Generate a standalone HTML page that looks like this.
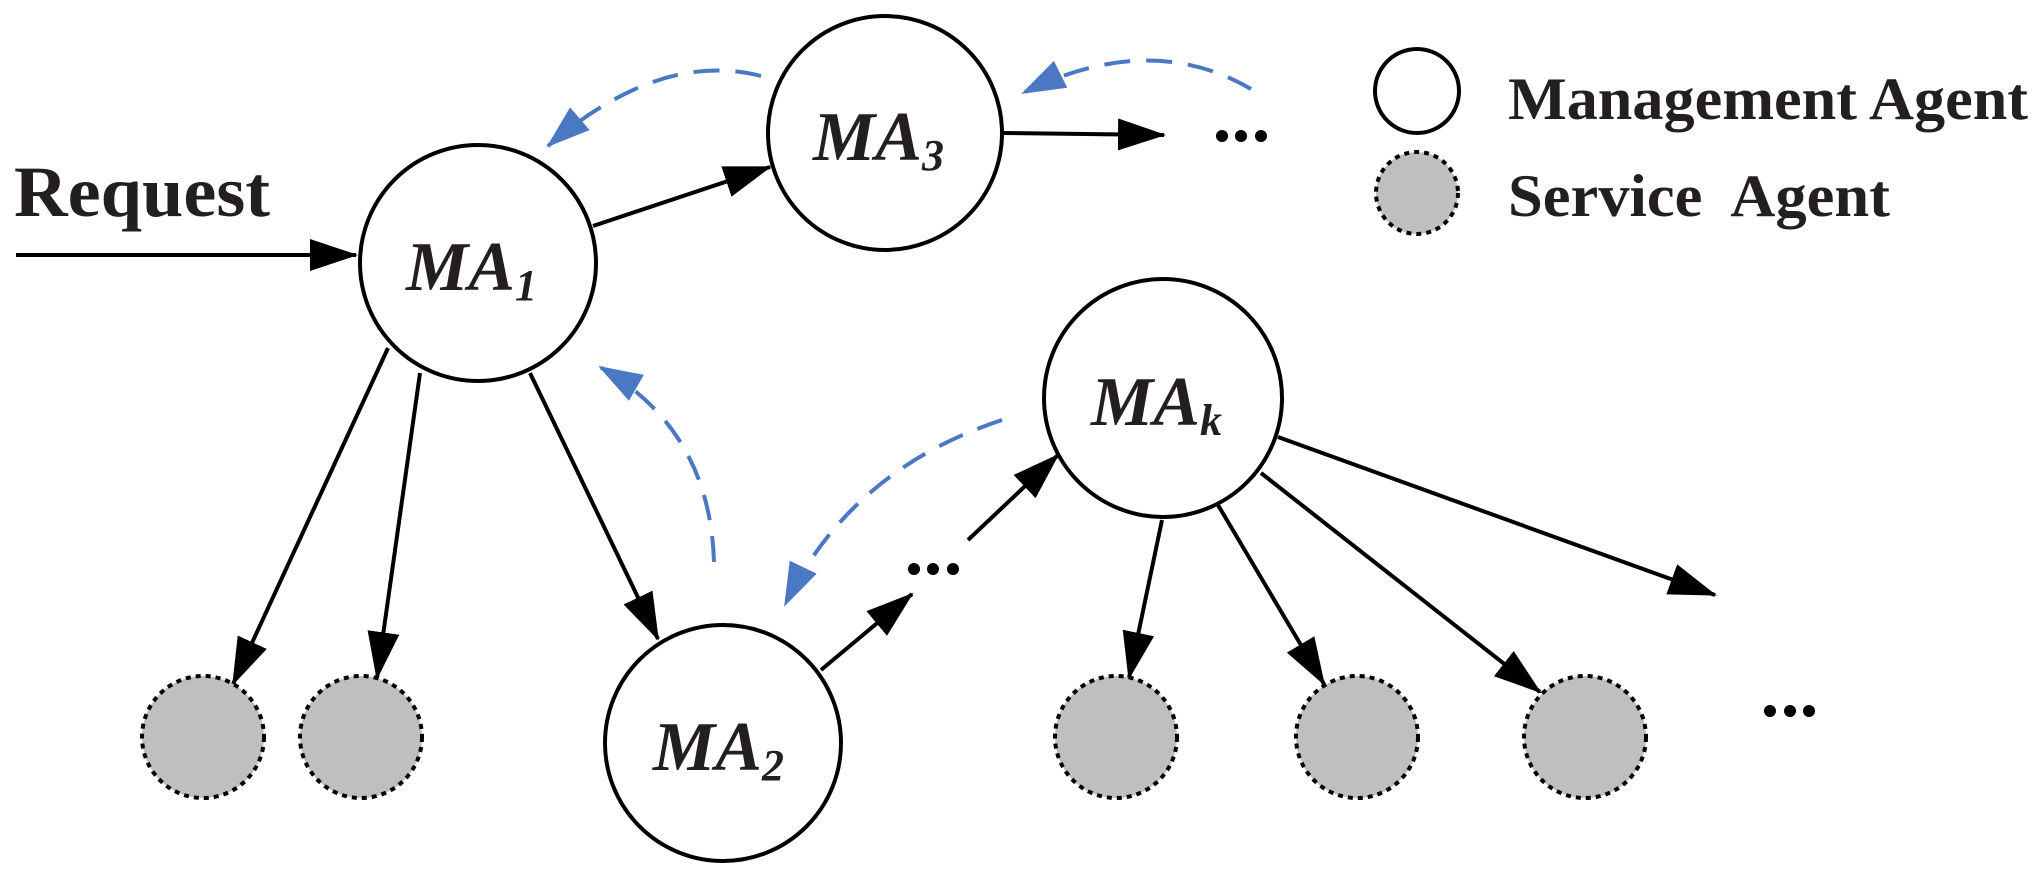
<!DOCTYPE html>
<html><head><meta charset="utf-8"><style>body{margin:0;background:#fff}svg{display:block}</style></head><body>
<svg width="2040" height="879" viewBox="0 0 2040 879" xmlns="http://www.w3.org/2000/svg">
<defs>
<marker id="a" markerUnits="userSpaceOnUse" markerWidth="48" markerHeight="32" refX="46" refY="16" orient="auto"><path d="M0,0 L48,16 L0,32 z" fill="#000"/></marker>
<marker id="b" markerUnits="userSpaceOnUse" markerWidth="44" markerHeight="30" refX="42" refY="15" orient="auto"><path d="M0,0 L44,15 L0,30 z" fill="#4a78c2"/></marker>
</defs>
<g stroke="#000" stroke-width="4" fill="none">
<line x1="16" y1="255" x2="356" y2="255" marker-end="url(#a)"/>
<line x1="593" y1="226" x2="770" y2="167" marker-end="url(#a)"/>
<line x1="1002" y1="133" x2="1164" y2="135" marker-end="url(#a)"/>
<line x1="388" y1="348" x2="233" y2="684" marker-end="url(#a)"/>
<line x1="420" y1="373" x2="377" y2="678" marker-end="url(#a)"/>
<line x1="530" y1="373" x2="658" y2="639" marker-end="url(#a)"/>
<line x1="821" y1="670" x2="912" y2="594" marker-end="url(#a)"/>
<line x1="968" y1="540" x2="1058" y2="455" marker-end="url(#a)"/>
<line x1="1278" y1="437" x2="1715" y2="595" marker-end="url(#a)"/>
<line x1="1162" y1="520" x2="1129" y2="678" marker-end="url(#a)"/>
<line x1="1218" y1="505" x2="1324" y2="684" marker-end="url(#a)"/>
<line x1="1261" y1="473" x2="1540" y2="692" marker-end="url(#a)"/>
</g>
<g stroke="#4a78c2" stroke-width="4" fill="none" stroke-dasharray="26,16">
<path d="M761,76 Q660,50 548,146" marker-end="url(#b)"/>
<path d="M1251,89 Q1150,30 1023,93" marker-end="url(#b)"/>
<path d="M714,562 Q710,430 600,367" marker-end="url(#b)"/>
<path d="M1002,420 Q850,470 785,605" marker-end="url(#b)"/>
</g>
<g stroke="#000" stroke-width="4" fill="#fff">
<circle cx="478" cy="263" r="118"/>
<circle cx="885" cy="133" r="117"/>
<circle cx="723" cy="743" r="118"/>
<circle cx="1163" cy="398" r="119"/>
<circle cx="1417" cy="91" r="42"/>
</g>
<g stroke="#000" stroke-width="4" fill="#bfbfbf" stroke-dasharray="5,5">
<circle cx="203" cy="737" r="61"/>
<circle cx="361" cy="737" r="61"/>
<circle cx="1116" cy="737" r="61"/>
<circle cx="1357" cy="737" r="61"/>
<circle cx="1585" cy="737" r="61"/>
<circle cx="1417" cy="193" r="41"/>
</g>
<g fill="#000">
<circle cx="1222" cy="136" r="6"/><circle cx="1241" cy="136" r="6"/><circle cx="1261" cy="136" r="6"/>
<circle cx="914" cy="569" r="6"/><circle cx="933" cy="569" r="6"/><circle cx="953" cy="569" r="6"/>
<circle cx="1770" cy="711" r="6"/><circle cx="1790" cy="711" r="6"/><circle cx="1809" cy="711" r="6"/>
</g>
<g font-family="Liberation Serif, serif" font-weight="bold" fill="#231f20">
<text x="14" y="216" font-size="72" textLength="256" lengthAdjust="spacingAndGlyphs">Request</text>
<text x="1508" y="119" font-size="60" textLength="520" lengthAdjust="spacingAndGlyphs">Management Agent</text>
<text x="1508" y="216" font-size="60" xml:space="preserve" textLength="382" lengthAdjust="spacingAndGlyphs">Service  Agent</text>
<g font-style="italic" font-size="70">
<text x="406" y="290">MA<tspan font-size="44" dy="10">1</tspan></text>
<text x="813" y="160">MA<tspan font-size="44" dy="10">3</tspan></text>
<text x="653" y="770">MA<tspan font-size="44" dy="10">2</tspan></text>
<text x="1091" y="425">MA<tspan font-size="44" dy="10">k</tspan></text>
</g>
</g>
</svg>
</body></html>
